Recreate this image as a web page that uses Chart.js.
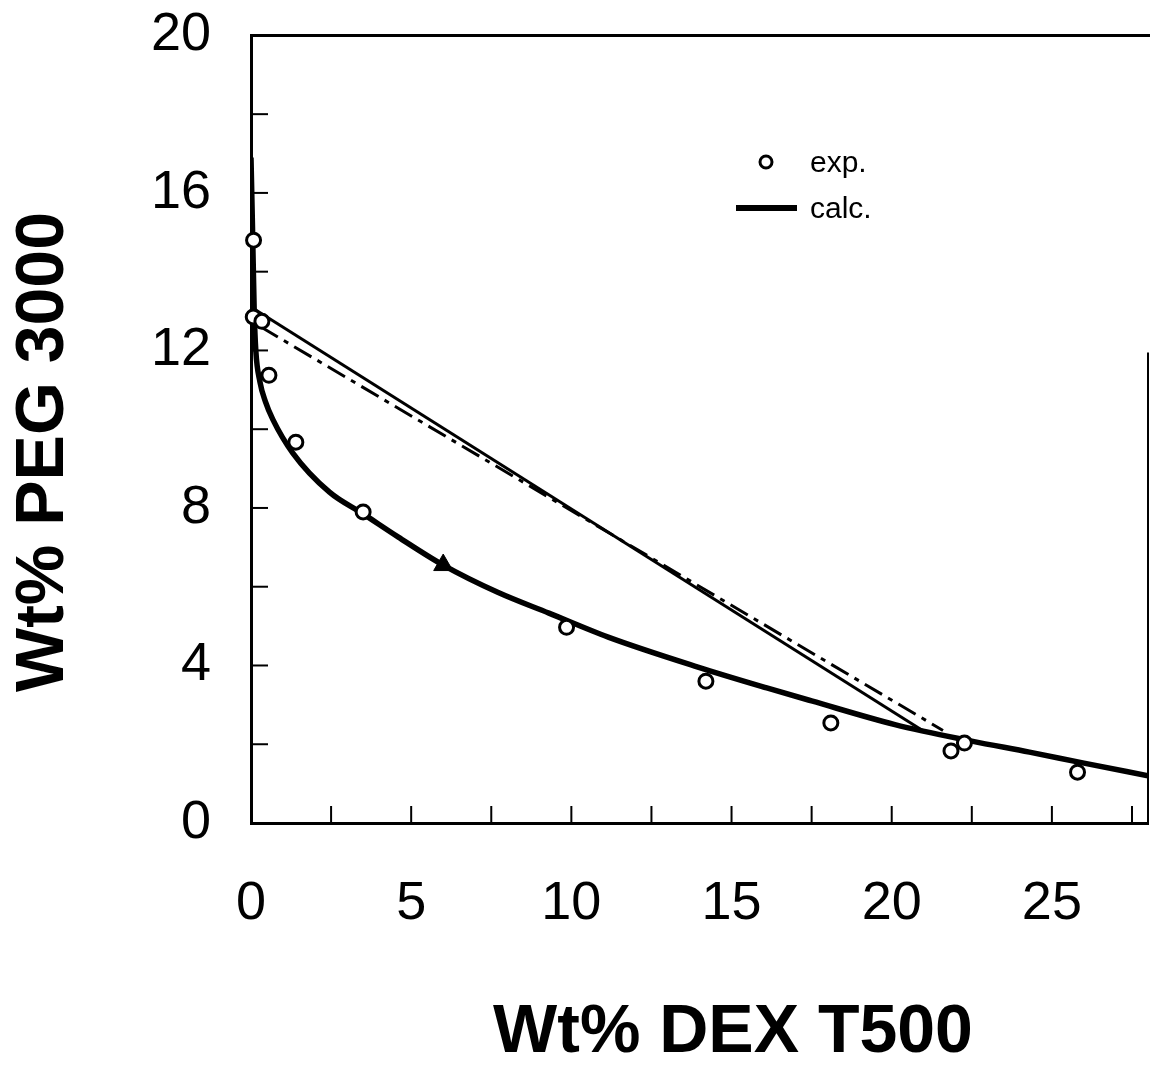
<!DOCTYPE html>
<html>
<head>
<meta charset="utf-8">
<script src="https://cdn.jsdelivr.net/npm/chart.js@4/dist/chart.umd.min.js"></script>
<style>
  html, body { margin: 0; padding: 0; background: #fff; }
  #wrap { width: 1150px; height: 1066px; }
</style>
</head>
<body>
<div id="wrap"><canvas id="grafico"></canvas></div>
<script>
// experimental points (Wt% DEX, Wt% PEG)
const expDex = [0.08, 0.07, 0.34, 0.56, 1.4, 3.5, 9.85, 14.2, 18.1, 21.85, 22.27, 25.8];
const expPeg = [14.8, 12.85, 12.74, 11.37, 9.67, 7.9, 4.97, 3.6, 2.54, 1.83, 2.03, 1.29];

// calculated binodal
const calcDex = [0.0, 0.05, 0.1, 0.15, 0.28, 0.45, 0.68, 1.3, 2.45, 3.5, 4.6, 6.0, 7.7, 9.3, 11.15, 13.95, 16.1, 17.5, 20.1, 22.5, 24.3, 26.0, 28.0];
const calcPeg = [16.9, 15.0, 13.0, 12.0, 11.2, 10.7, 10.25, 9.4, 8.4, 7.85, 7.26, 6.55, 5.86, 5.33, 4.72, 3.96, 3.43, 3.1, 2.5, 2.08, 1.8, 1.52, 1.2];

// tie lines
const tieDex = [0.1, 21.0];
const tiePeg = [13.05, 2.33];
const tie2Dex = [0.3, 21.6];
const tie2Peg = [12.6, 2.35];

// feed point
const feedDex = [6.0];
const feedPeg = [6.55];

// axes
const xLabelTicks = [0, 5, 10, 15, 20, 25];
const yLabelTicks = [0, 4, 8, 12, 16, 20];
const xTickMarks = [2.5, 5, 7.5, 10, 12.5, 15, 17.5, 20, 22.5, 25, 27.5];
const yTickMarks = [2, 4, 6, 8, 10, 12, 14, 16, 18];

const FONT = '"Liberation Sans", Arial, sans-serif';

function pts(xs, ys) {
  return xs.map((v, i) => ({ x: v, y: ys[i] }));
}

const extras = {
  id: 'extras',
  afterDraw(chart) {
    const ctx = chart.ctx;
    const a = chart.chartArea;
    const sx = chart.scales.x, sy = chart.scales.y;
    ctx.save();
    ctx.strokeStyle = '#000';
    ctx.fillStyle = '#000';

    // frame top + right
    ctx.lineWidth = 3;
    ctx.beginPath();
    ctx.moveTo(a.left, a.top);
    ctx.lineTo(chart.width, a.top);
    ctx.stroke();
    ctx.lineWidth = 2;
    ctx.beginPath();
    ctx.moveTo(a.right, a.top + 317);
    ctx.lineTo(a.right, a.bottom);
    ctx.stroke();

    // inward ticks
    ctx.lineWidth = 2;
    xTickMarks.forEach(v => {
      const p = sx.getPixelForValue(v);
      ctx.beginPath();
      ctx.moveTo(p, a.bottom);
      ctx.lineTo(p, a.bottom - 17);
      ctx.stroke();
    });
    yTickMarks.forEach(v => {
      const p = sy.getPixelForValue(v);
      ctx.beginPath();
      ctx.moveTo(a.left, p);
      ctx.lineTo(a.left + 17, p);
      ctx.stroke();
    });

    // legend
    ctx.lineWidth = 3;
    ctx.fillStyle = '#fff';
    ctx.beginPath();
    ctx.arc(766, 162, 6, 0, Math.PI * 2);
    ctx.fill();
    ctx.stroke();
    ctx.lineWidth = 6;
    ctx.beginPath();
    ctx.moveTo(736, 208);
    ctx.lineTo(797, 208);
    ctx.stroke();
    ctx.fillStyle = '#000';
    ctx.font = '30px ' + FONT;
    ctx.textAlign = 'left';
    ctx.textBaseline = 'alphabetic';
    ctx.fillText('exp.', 810, 172);
    ctx.fillText('calc.', 810, 218);

    // axis titles
    ctx.font = 'bold 68px ' + FONT;
    ctx.textAlign = 'center';
    ctx.fillText('Wt% DEX T500', 733, 1052);
    ctx.translate(63, 452);
    ctx.rotate(-Math.PI / 2);
    ctx.fillText('Wt% PEG 3000', 0, 0);
    ctx.restore();
  }
};

document.addEventListener('DOMContentLoaded', function() {
  const ctx = document.getElementById('grafico').getContext('2d');

  Chart.defaults.color = '#000';
  Chart.defaults.font.family = FONT;

  const data = {
    datasets: [
      {
        label: 'exp.',
        data: pts(expDex, expPeg),
        showLine: false,
        clip: false,
        pointStyle: 'circle',
        pointRadius: 7,
        pointBorderWidth: 3,
        pointBackgroundColor: '#fff',
        pointBorderColor: '#000'
      },
      {
        label: 'feed',
        data: pts(feedDex, feedPeg),
        showLine: false,
        pointStyle: 'triangle',
        pointRadius: 11,
        pointBorderWidth: 1,
        pointBackgroundColor: '#000',
        pointBorderColor: '#000'
      },
      {
        label: 'calc.',
        data: pts(calcDex, calcPeg),
        showLine: true,
        borderColor: '#000',
        borderWidth: 5.5,
        pointRadius: 0,
        cubicInterpolationMode: 'monotone'
      },
      {
        label: 'tie',
        data: pts(tieDex, tiePeg),
        showLine: true,
        borderColor: '#000',
        borderWidth: 3,
        pointRadius: 0
      },
      {
        label: 'tie2',
        data: pts(tie2Dex, tie2Peg),
        showLine: true,
        borderColor: '#000',
        borderWidth: 3,
        borderDash: [20, 7, 5, 7],
        pointRadius: 0
      }
    ]
  };

  // transparent tick marks only push the labels away from the axis
  const hiddenGrid = len => ({
    display: true,
    drawOnChartArea: false,
    drawTicks: true,
    tickLength: len,
    tickColor: 'rgba(0,0,0,0)'
  });

  const config = {
    type: 'scatter',
    data,
    plugins: [extras],
    options: {
      responsive: true,
      maintainAspectRatio: false,
      animation: false,
      layout: { autoPadding: false, padding: { top: 0, right: 2, left: 0, bottom: 0 } },
      plugins: {
        legend: { display: false },
        tooltip: { enabled: false }
      },
      scales: {
        x: {
          type: 'linear',
          min: 0,
          max: 28,
          grid: hiddenGrid(46),
          border: { display: true, color: '#000', width: 3 },
          afterBuildTicks: s => { s.ticks = xLabelTicks.map(v => ({ value: v })); },
          afterFit: s => { s.height = 243; s.paddingRight = 0; },
          ticks: {
            padding: 3,
            maxRotation: 0,
            font: { size: 54 },
            color: '#000'
          }
        },
        y: {
          type: 'linear',
          min: 0,
          max: 20,
          grid: hiddenGrid(37),
          border: { display: true, color: '#000', width: 3 },
          afterBuildTicks: s => { s.ticks = yLabelTicks.map(v => ({ value: v })); },
          afterFit: s => { s.width = 251; },
          ticks: {
            padding: 3,
            font: { size: 54 },
            color: '#000'
          }
        }
      }
    }
  };

  new Chart(ctx, config);
});
</script>
</body>
</html>
